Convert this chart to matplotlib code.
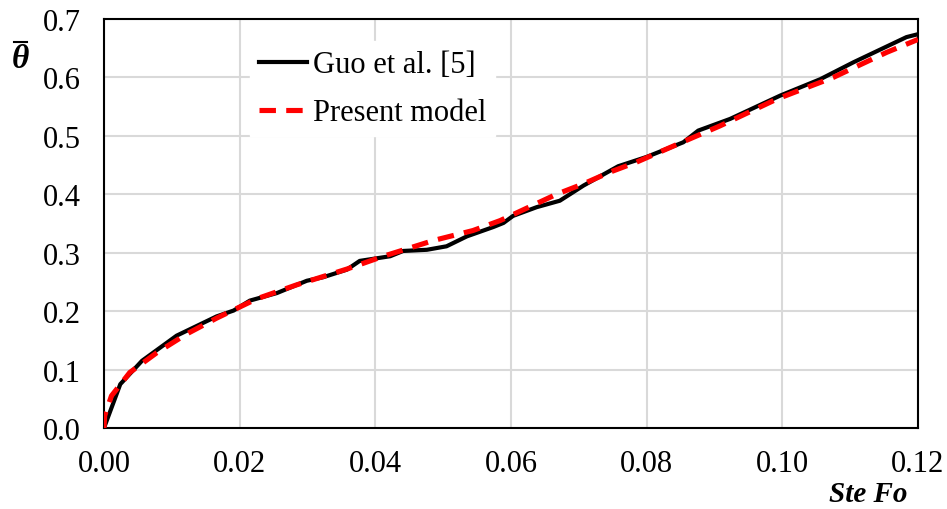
import numpy as np
import matplotlib.pyplot as plt
from matplotlib.lines import Line2D

plt.rcParams['font.family'] = ['Liberation Serif', 'DejaVu Serif']

# Guo et al. [5] (black solid)
guo_x = [0.0, 0.0024, 0.0056, 0.0107, 0.0166, 0.0191, 0.0215, 0.0255, 0.0299,
         0.0323, 0.0358, 0.0377, 0.0422, 0.0441, 0.0476, 0.0505, 0.0535, 0.0574,
         0.0589, 0.0603, 0.0638, 0.0672, 0.0707, 0.0758, 0.0800, 0.0854, 0.0876,
         0.0923, 0.0997, 0.1056, 0.1105, 0.1183, 0.1200]
guo_y = [0.0, 0.075, 0.115, 0.158, 0.191, 0.201, 0.218, 0.231, 0.252,
         0.258, 0.271, 0.286, 0.294, 0.303, 0.305, 0.311, 0.328, 0.344,
         0.351, 0.363, 0.378, 0.389, 0.415, 0.448, 0.464, 0.489, 0.509,
         0.529, 0.569, 0.597, 0.626, 0.669, 0.674]

# Present model (red dashed)
model_x = [0.0, 0.0001, 0.0011, 0.0038, 0.0078, 0.0122, 0.0166, 0.0225, 0.0284,
           0.0358, 0.0412, 0.0486, 0.0544, 0.0584, 0.0667, 0.0707, 0.0746,
           0.0785, 0.0864, 0.0908, 0.0992, 0.1075, 0.1154, 0.1200]
model_y = [0.0, 0.021, 0.055, 0.095, 0.129, 0.161, 0.188, 0.221, 0.245,
           0.272, 0.294, 0.321, 0.338, 0.355, 0.400, 0.418, 0.438,
           0.455, 0.495, 0.517, 0.563, 0.600, 0.643, 0.665]

xticks = [0.00, 0.02, 0.04, 0.06, 0.08, 0.10, 0.12]
yticks = [0.0, 0.1, 0.2, 0.3, 0.4, 0.5, 0.6, 0.7]

fig = plt.figure(figsize=(9.47, 5.10), dpi=100)
ax = fig.add_axes([104 / 947, 1 - 429 / 510, 814 / 947, 409 / 510])

ax.plot(guo_x, guo_y, color='black', lw=3, label='Guo et al. [5]', zorder=3)
ax.plot(model_x, model_y, color='red', lw=3.7, ls=(0, (3.2, 2)),
        label='Present model', zorder=4)

ax.set_xlim(0, 0.12)
ax.set_ylim(0, 0.7)
ax.set_xticks(xticks)
ax.set_yticks(yticks)
ax.set_xticklabels([f'{v:.2f}' for v in xticks])
ax.set_yticklabels([f'{v:.1f}' for v in yticks])
ax.tick_params(length=0, labelsize=22, colors='black')
ax.tick_params(axis='x', pad=15)
ax.tick_params(axis='y', pad=17)
ax.grid(True, color='#d9d9d9', lw=1.5)
ax.set_axisbelow(True)
for s in ax.spines.values():
    s.set_color('black')
    s.set_linewidth(1.5)

leg = ax.legend(loc='upper left', bbox_to_anchor=(0.179, 0.946), fontsize=22,
                frameon=True, fancybox=False, framealpha=1, edgecolor='white',
                handlelength=1.57, handletextpad=0.2, labelspacing=0.62,
                borderpad=0.3, borderaxespad=0)

fig.text(868 / 947, 1 - 495 / 510, 'Ste Fo', fontsize=21, fontweight='bold',
         style='italic', ha='center', va='center')
fig.text(20 / 947, 1 - 60 / 510, 'θ', fontsize=24, fontweight='bold',
         style='italic', ha='center', va='center')
fig.add_artist(Line2D([14 / 947, 27 / 947], [1 - 43 / 510, 1 - 43 / 510],
                      color='black', lw=1.5, transform=fig.transFigure))

fig.savefig('out.png', dpi=100)
